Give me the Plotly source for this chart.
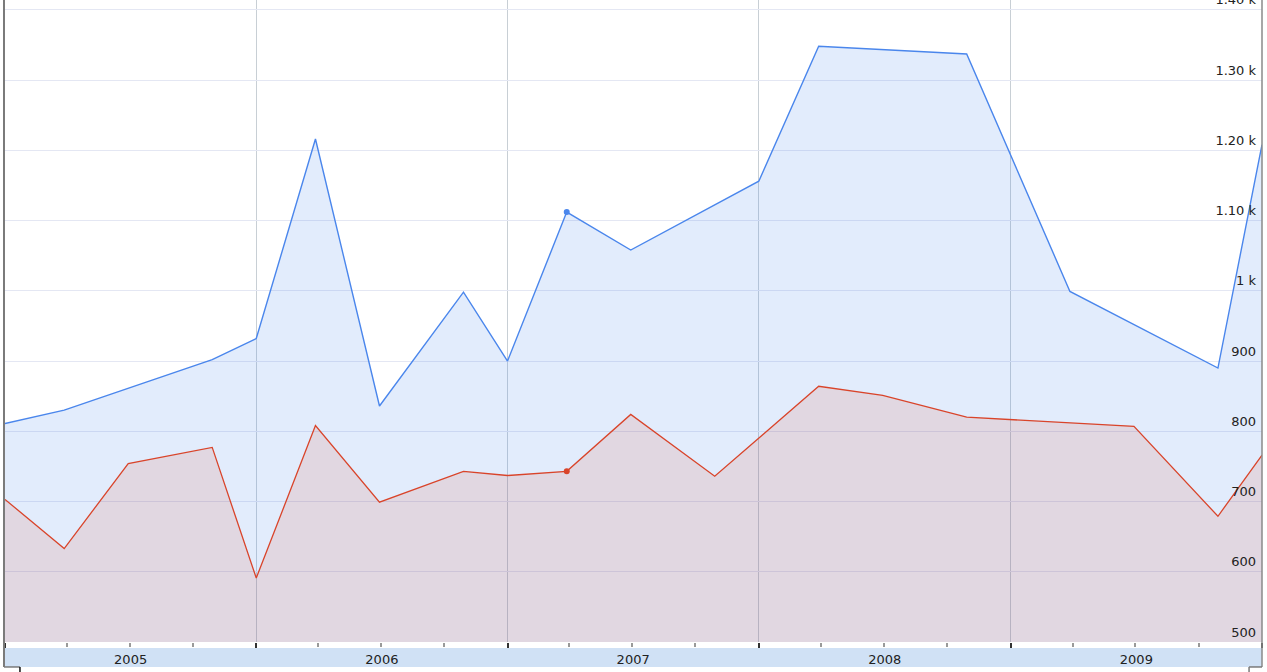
import plotly.graph_objects as go

# ---- data ----
blue_dates = ["2005-01-01", "2005-03-28", "2005-10-29", "2006-01-01", "2006-03-28",
              "2006-06-29", "2006-10-29", "2007-01-01", "2007-03-28", "2007-06-29",
              "2008-01-01", "2008-03-28", "2008-10-29", "2009-03-28", "2009-10-29",
              "2010-01-01"]
blue_values = [811, 830, 902, 932, 1216, 836, 998, 900, 1112, 1058,
               1156, 1348, 1337, 999, 890, 1208]

red_dates = ["2005-01-01", "2005-03-28", "2005-06-29", "2005-10-29", "2006-01-01",
             "2006-03-28", "2006-06-29", "2006-10-29", "2007-01-01", "2007-03-28",
             "2007-06-29", "2007-10-29", "2008-03-28", "2008-06-29", "2008-10-29",
             "2009-06-29", "2009-10-29", "2010-01-01"]
red_values = [703, 633, 754, 777, 591, 808, 699, 743, 737, 743,
              824, 736, 864, 851, 820, 807, 679, 766]

highlight_date = "2007-03-28"

y_tick_values = [500, 600, 700, 800, 900, 1000, 1100, 1200, 1300, 1400]
y_tick_labels = ["500", "600", "700", "800", "900", "1 k", "1.10 k", "1.20 k", "1.30 k", "1.40 k"]

x_range = ["2005-01-01", "2010-01-01"]
y_range = [500, 1413.9]

BLUE = "#4a86ec"
RED = "#d9442a"
FONT = "DejaVu Sans"

fig = go.Figure()

fig.add_trace(go.Scatter(
    x=blue_dates, y=blue_values, mode="lines", fill="tozeroy",
    line=dict(color=BLUE, width=1.4), fillcolor="rgba(70,132,238,0.155)",
    hoverinfo="skip", showlegend=False))
fig.add_trace(go.Scatter(
    x=red_dates, y=red_values, mode="lines", fill="tozeroy",
    line=dict(color=RED, width=1.3), fillcolor="rgba(220,57,18,0.115)",
    hoverinfo="skip", showlegend=False))

# highlighted points
hb = blue_values[blue_dates.index(highlight_date)]
hr = red_values[red_dates.index(highlight_date)]
fig.add_trace(go.Scatter(x=[highlight_date], y=[hb], mode="markers",
                         marker=dict(color=BLUE, size=6), showlegend=False, hoverinfo="skip"))
fig.add_trace(go.Scatter(x=[highlight_date], y=[hr], mode="markers",
                         marker=dict(color=RED, size=6), showlegend=False, hoverinfo="skip"))

shapes = [
    # axis label band
    dict(type="rect", xref="paper", yref="paper", x0=0, x1=1, y0=-0.0389, y1=-0.0095,
         fillcolor="#d0e1f5", line=dict(width=0), layer="below"),
    # left border
    dict(type="line", xref="paper", yref="paper", x0=-0.0008, x1=-0.0008, y0=1.0, y1=-0.0389,
         line=dict(color="#7a7a7a", width=2)),
    # right border
    dict(type="line", xref="paper", yref="paper", x0=1.0, x1=1.0, y0=1.0, y1=-0.0389,
         line=dict(color="#8a8a8a", width=1.5)),
    # bottom-left bracket
    dict(type="line", xref="paper", yref="paper", x0=-0.0008, x1=0.0119, y0=-0.0389, y1=-0.0389,
         line=dict(color="#7a7a7a", width=1.5)),
    dict(type="line", xref="paper", yref="paper", x0=0.0119, x1=0.0119, y0=-0.0389, y1=-0.05,
         line=dict(color="#111111", width=1.5)),
    # bottom-right bracket
    dict(type="line", xref="paper", yref="paper", x0=1.0, x1=0.9897, y0=-0.0389, y1=-0.0389,
         line=dict(color="#7a7a7a", width=1.5)),
    dict(type="line", xref="paper", yref="paper", x0=0.9897, x1=0.9897, y0=-0.0389, y1=-0.05,
         line=dict(color="#7a7a7a", width=1.5)),
]

fig.update_layout(
    width=1267, height=672,
    margin=dict(l=5, r=5, t=0, b=30, autoexpand=False),
    paper_bgcolor="white", plot_bgcolor="white",
    shapes=shapes,
    showlegend=False,
    font=dict(family=FONT, size=13, color="#222222"),
)

fig.update_xaxes(
    type="date", range=x_range, automargin=False,
    tick0="2005-01-01", dtick="M12", tickformat="%Y", ticklabelmode="period",
    ticks="outside", ticklen=5, tickcolor="#333333", tickwidth=1.5,
    showgrid=True, gridcolor="#c8cfd5", gridwidth=1,
    showline=False, zeroline=False,
    tickfont=dict(family=FONT, size=13, color="#222222"),
    minor=dict(dtick="M3", tick0="2005-01-01", ticks="outside", ticklen=4,
               tickcolor="#9a9a9a", showgrid=False),
    fixedrange=True,
)

fig.update_yaxes(
    range=y_range, side="right", automargin=False,
    tickmode="array", tickvals=y_tick_values, ticktext=y_tick_labels,
    ticklabelposition="inside", ticklabeloverflow="allow", ticklabelshift=-10,
    ticklabelstandoff=3,
    ticks="", showline=False, zeroline=False,
    showgrid=True, gridcolor="#e4e7f3", gridwidth=1,
    tickfont=dict(family=FONT, size=13, color="#222222"),
    fixedrange=True,
)

fig.write_html("out.html", config={"displayModeBar": False},
               post_script="document.body.style.margin='0';")
